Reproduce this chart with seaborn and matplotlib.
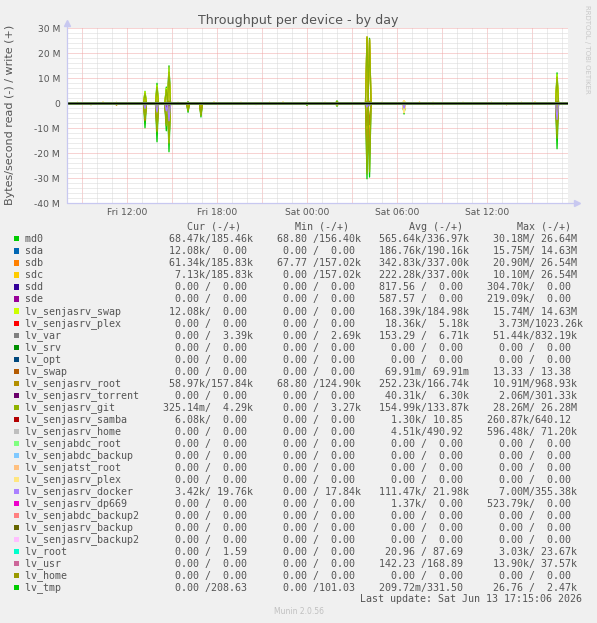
import pandas as pd
import matplotlib
matplotlib.use('Agg')
import matplotlib.pyplot as plt
from matplotlib.patches import Rectangle
import seaborn as sns

# legend table (munin diskstats throughput)
names = ['md0', 'sda', 'sdb', 'sdc', 'sdd', 'sde', 'lv_senjasrv_swap', 'lv_senjasrv_plex',
         'lv_var', 'lv_srv', 'lv_opt', 'lv_swap', 'lv_senjasrv_root', 'lv_senjasrv_torrent',
         'lv_senjasrv_git', 'lv_senjasrv_samba', 'lv_senjasrv_home', 'lv_senjabdc_root',
         'lv_senjabdc_backup', 'lv_senjatst_root', 'lv_senjasrv_plex', 'lv_senjasrv_docker',
         'lv_senjasrv_dp669', 'lv_senjabdc_backup2', 'lv_senjasrv_backup', 'lv_senjasrv_backup2',
         'lv_root', 'lv_usr', 'lv_home', 'lv_tmp']
colors = ['#00CC00', '#0066B3', '#FF8000', '#FFCC00', '#330099', '#990099', '#CCFF00', '#FF0000',
          '#808080', '#008F00', '#00487D', '#B35A00', '#B38F00', '#6B006B', '#8FB300', '#B30000',
          '#BEBEBE', '#80FF80', '#80C9FF', '#FFC080', '#FFE680', '#AA80FF', '#EE00CC', '#FF8080',
          '#666600', '#FFBFFF', '#00FFCC', '#CC6699', '#999900', '#00CC00']
z = '  0.00 /  0.00 '
cur = [' 68.47k/185.46k', ' 12.08k/  0.00 ', ' 61.34k/185.83k', '  7.13k/185.83k', z, z,
       ' 12.08k/  0.00 ', z, '  0.00 /  3.39k', z, z, z, ' 58.97k/157.84k', z,
       '325.14m/  4.29k', '  6.08k/  0.00 ', z, z, z, z, z, '  3.42k/ 19.76k', z, z, z, z,
       '  0.00 /  1.59 ', z, z, '  0.00 /208.63 ']
mins = [' 68.80 /156.40k', z, ' 67.77 /157.02k', '  0.00 /157.02k', z, z, z, z,
        '  0.00 /  2.69k', z, z, z, ' 68.80 /124.90k', z, '  0.00 /  3.27k', z, z, z, z, z, z,
        '  0.00 / 17.84k', z, z, z, z, z, z, z, '  0.00 /101.03 ']
avgs = ['565.64k/336.97k', '186.76k/190.16k', '342.83k/337.00k', '222.28k/337.00k',
        '817.56 /  0.00 ', '587.57 /  0.00 ', '168.39k/184.98k', ' 18.36k/  5.18k',
        '153.29 /  6.71k', z, z, ' 69.91m/ 69.91m', '252.23k/166.74k', ' 40.31k/  6.30k',
        '154.99k/133.87k', '  1.30k/ 10.85 ', '  4.51k/490.92 ', z, z, z, z,
        '111.47k/ 21.98k', '  1.37k/  0.00 ', z, z, z, ' 20.96 / 87.69 ', '142.23 /168.89 ',
        z, '209.72m/331.50 ']
maxs = [' 30.18M/ 26.64M', ' 15.75M/ 14.63M', ' 20.90M/ 26.54M', ' 10.10M/ 26.54M',
        '304.70k/  0.00 ', '219.09k/  0.00 ', ' 15.74M/ 14.63M', '  3.73M/1023.26k',
        ' 51.44k/832.19k', z, z, ' 13.33 / 13.38 ', ' 10.91M/968.93k', '  2.06M/301.33k',
        ' 28.26M/ 26.28M', '260.87k/640.12 ', '596.48k/ 71.20k', z, z, z, z,
        '  7.00M/355.38k', '523.79k/  0.00 ', z, z, z, '  3.03k/ 23.67k', ' 13.90k/ 37.57k',
        z, ' 26.76 /  2.47k']

# activity bursts, hours after Fri 08:00, values in MB/s (write +, read -)
spike_hours = [5.2, 6.0, 6.62, 6.8, 8.07, 8.93, 16.0, 18.0, 20.0, 20.17, 22.47, 32.67]
md0_w = [4.8, 8.0, 6.5, 15.0, 0.6, 0.2, 0.4, 1.0, 26.6, 26.0, 0.8, 12.2]
md0_r = [-9.8, -15.4, -11.0, -19.4, -3.6, -5.5, -0.8, -1.2, -30.2, -29.5, -4.3, -18.2]
sda_w = [2.5, 4.0, 4.0, 14.6, 0.0, 0.0, 0.0, 0.0, 0.2, 0.2, 0.0, 8.0]
sda_r = [-4.0, -8.0, -7.0, -15.7, 0.0, 0.0, 0.0, 0.0, -0.5, -0.5, 0.0, -9.0]
sdb_w = [3.5, 5.5, 5.0, 12.0, 0.3, 0.1, 0.2, 0.6, 26.5, 25.5, 0.5, 10.0]
sdb_r = [-6.5, -10.5, -8.0, -14.0, -2.5, -4.0, -0.5, -0.8, -20.9, -20.0, -3.5, -12.0]
sdc_w = [3.5, 5.5, 5.0, 12.0, 0.3, 0.1, 0.2, 0.6, 26.5, 25.5, 0.5, 10.0]
sdc_r = [-3.5, -5.0, -3.0, -6.0, -1.0, -1.5, -0.3, -0.4, -10.1, -9.5, -1.0, -6.0]
swap_w = [4.7, 7.2, 6.0, 14.6, 0.0, 0.0, 0.0, 0.0, 0.2, 0.2, 0.0, 11.5]
swap_r = [-4.0, -7.0, -6.0, -15.7, 0.0, 0.0, 0.0, 0.0, -0.5, -0.5, 0.0, -8.0]
plex_w = [0.0, 0.0, 0.0, 0.0, 0.0, 0.0, 0.0, 0.3, 0.0, 0.0, 1.0, 0.0]
plex_r = [0.0, 0.0, 0.0, -0.5, 0.0, 0.0, 0.0, -0.6, 0.0, 0.0, -3.7, 0.0]
root_w = [0.5, 0.6, 0.5, 0.9, 0.4, 0.2, 0.3, 0.5, 0.9, 0.8, 0.5, 0.9]
root_r = [-7.0, -11.0, -8.0, -10.9, -2.8, -4.5, -0.6, -0.8, -9.0, -8.5, -3.5, -10.0]
torrent_r = [0.0, 0.0, -2.06, -1.0, 0.0, 0.0, 0.0, 0.0, 0.0, 0.0, 0.0, 0.0]
git_w = [4.0, 6.5, 5.5, 12.5, 0.5, 0.1, 0.3, 0.8, 26.3, 25.6, 0.6, 10.5]
git_r = [-6.0, -11.5, -9.0, -16.0, -3.0, -5.0, -0.6, -1.0, -28.3, -27.5, -3.8, -14.0]
docker_w = [0.1, 0.2, 0.2, 0.35, 0.0, 0.0, 0.0, 0.0, 0.1, 0.1, 0.2, 0.3]
docker_r = [-2.0, -3.5, -3.0, -7.0, -0.3, 0.0, 0.0, -0.2, -1.5, -1.0, -2.0, -6.5]

# small background activity
blip_hours = [0.7, 1.6, 2.4, 3.3, 4.2, 7.4, 9.8, 10.7, 11.6, 12.6, 13.5, 14.4, 15.4, 17.2,
              19.0, 21.0, 21.9, 23.5, 24.4, 25.4, 26.4, 27.3, 28.3, 29.3, 30.3, 31.2, 32.1]
sdc_blip_w = [0.4, 0.3, 0.5, 0.4, 0.3, 0.4, 0.5, 0.3, 0.4, 0.3, 0.4, 0.5, 0.3, 0.4,
              0.3, 0.4, 0.3, 0.5, 0.4, 0.3, 0.4, 0.3, 0.4, 0.3, 0.4, 0.5, 0.3]
root_blip_r = [-0.2, -0.6, -0.3, -0.8, -0.3, -0.2, -0.4, -0.3, -0.2, -0.5, -0.3, -0.2, -0.4, -0.3,
               -0.2, -0.3, -0.2, -0.3, -0.5, -0.2, -0.3, -0.2, -0.4, -0.6, -0.2, -0.3, -0.2]

writes = {'md0': md0_w, 'sda': sda_w, 'sdb': sdb_w, 'sdc': sdc_w, 'lv_senjasrv_swap': swap_w,
          'lv_senjasrv_plex': plex_w, 'lv_senjasrv_root': root_w, 'lv_senjasrv_git': git_w,
          'lv_senjasrv_docker': docker_w}
reads = {'md0': md0_r, 'sda': sda_r, 'sdb': sdb_r, 'sdc': sdc_r, 'lv_senjasrv_swap': swap_r,
         'lv_senjasrv_plex': plex_r, 'lv_senjasrv_root': root_r,
         'lv_senjasrv_torrent': torrent_r, 'lv_senjasrv_git': git_r,
         'lv_senjasrv_docker': docker_r}

X_END = 33.4
HALF = 0.1  # about one 5 minute sample either side


def expand(events):
    pts = [(0.0, 0.0)]
    for h, v in sorted(events):
        if v != 0:
            pts += [(h - HALF, 0.0), (h, v), (h + HALF, 0.0)]
    pts.append((X_END, 0.0))
    return pts


rows = []
for n in names:
    w_ev = list(zip(spike_hours, writes.get(n, [])))
    r_ev = list(zip(spike_hours, reads.get(n, [])))
    if n == 'sdc':
        w_ev += list(zip(blip_hours, sdc_blip_w))
    if n == 'lv_senjasrv_root':
        r_ev += list(zip(blip_hours, root_blip_r))
    for part, ev in (('read', r_ev), ('write', w_ev)):
        for h, v in expand(ev):
            rows.append({'hour': h, 'value': v, 'series': n, 'part': part})
df = pd.DataFrame(rows)

sns.set_style('white')
W, H = 597, 623
fig = plt.figure(figsize=(W / 100, H / 100), dpi=100)
fig.patch.set_facecolor('#f0f0f0')
ax = fig.add_axes([67 / W, 1 - 203.3 / H, (568 - 67) / W, (203.3 - 28.3) / H])
ax.set_facecolor('white')

# grid like rrdtool
for h in range(0, 34):
    if h % 3 == 1:
        ax.axvline(h, color='#f0a8a8', lw=0.72, ls=(0, (1, 1)), zorder=0)
    else:
        ax.axvline(h, color='#d8d8d8', lw=0.72, ls=(0, (1, 1)), zorder=0)
for v in range(-40, 31, 2):
    if v % 10 == 0:
        ax.axhline(v, color='#f0a8a8', lw=0.72, ls=(0, (1, 1)), zorder=0)
    else:
        ax.axhline(v, color='#d8d8d8', lw=0.72, ls=(0, (1, 1)), zorder=0)

sns.lineplot(data=df, x='hour', y='value', hue='series', hue_order=names, units='part',
             estimator=None, sort=False, palette=dict(zip(names, colors)), legend=False,
             linewidth=0.9, ax=ax)
ax.axhline(0, color='black', lw=1.0, zorder=3)

ax.set_xlim(0, X_END)
ax.set_ylim(-40, 30)
ax.set_xticks([4, 10, 16, 22, 28])
ax.set_xticklabels(['Fri 12:00', 'Fri 18:00', 'Sat 00:00', 'Sat 06:00', 'Sat 12:00'])
ax.set_yticks([30, 20, 10, 0, -10, -20, -30, -40])
ax.set_yticklabels(['30 M', '20 M', '10 M', '0', '-10 M', '-20 M', '-30 M', '-40 M'])
ax.tick_params(axis='both', length=0, labelsize=6.6, labelcolor='#555555')
ax.tick_params(axis='y', pad=5)
ax.tick_params(axis='x', pad=3.5)
ax.set_xlabel('')
ax.set_ylabel('')
for s in ax.spines.values():
    s.set_visible(False)

# axes with arrows
ax.plot([0, 0], [-40, 31.5], color='#c8c8f0', lw=0.9, clip_on=False, zorder=4)
ax.plot([0, 33.8], [-40, -40], color='#c8c8f0', lw=0.9, clip_on=False, zorder=4)
ax.plot([0], [32.2], marker='^', ms=4, color='#c8c8f0', clip_on=False, zorder=4)
ax.plot([34.0], [-40], marker='>', ms=4, color='#c8c8f0', clip_on=False, zorder=4)

fig.text(298.5 / W, 1 - 24 / H, 'Throughput per device - by day', ha='center', va='baseline',
         fontsize=9.1, color='#555555')
fig.text(10 / W, 1 - 115 / H, 'Bytes/second read (-) / write (+)', rotation=90,
         ha='center', va='center', fontsize=8, color='#555555')
fig.text(587 / W, 1 - 5 / H, 'RRDTOOL / TOBI OETIKER', rotation=270, ha='center', va='top',
         fontsize=5, color='#c8c8c8')

# legend table
mono = 'DejaVu Sans Mono'
fs = 7.2
header = ' ' * 27 + 'Cur (-/+)' + ' ' * 9 + 'Min (-/+)' + ' ' * 10 + 'Avg (-/+)' + ' ' * 9 + 'Max (-/+)'
fig.text(25 / W, 1 - 230 / H, header, family=mono, fontsize=fs, color='#555555', va='baseline')
for i, n in enumerate(names):
    base = 242 + 12 * i
    line = n.ljust(23) + cur[i] + '   ' + mins[i] + '   ' + avgs[i] + '   ' + maxs[i]
    fig.text(25 / W, 1 - base / H, line, family=mono, fontsize=fs, color='#555555',
             va='baseline')
    fig.add_artist(Rectangle((14 / W, 1 - (base - 0.5) / H), 5 / W, 5 / H,
                             transform=fig.transFigure, color=colors[i], lw=0))
fig.text(581.5 / W, 1 - 602 / H, 'Last update: Sat Jun 13 17:15:06 2026', family=mono,
         fontsize=fs, color='#555555', ha='right', va='baseline')
fig.text(298.5 / W, 1 - 614 / H, 'Munin 2.0.56', fontsize=5.5, color='#c0c0c0',
         ha='center', va='baseline')

fig.savefig('out.png', dpi=100, facecolor=fig.get_facecolor())
